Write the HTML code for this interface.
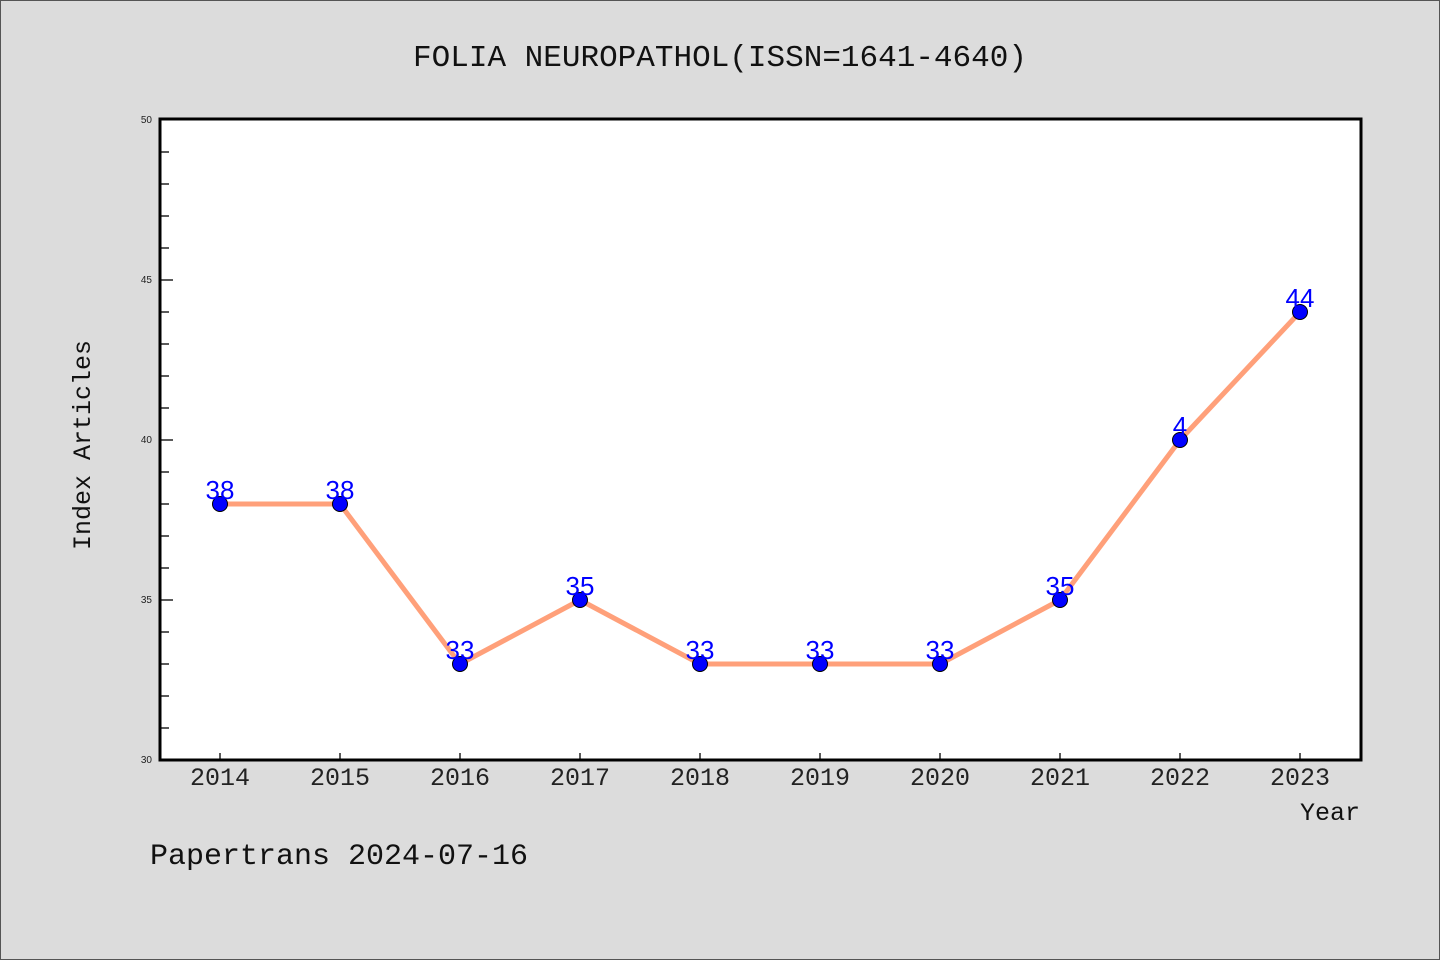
<!DOCTYPE html>
<html><head><meta charset="utf-8"><style>
body{margin:0;background:#dcdcdc;}
svg{display:block;}
</style></head><body>
<svg width="1440" height="960" xmlns="http://www.w3.org/2000/svg">
<rect x="0.5" y="0.5" width="1439" height="959" fill="#dcdcdc" stroke="#555"/>
<text x="720" y="66" text-anchor="middle" font-family="Liberation Mono, monospace" font-size="31" fill="#111">FOLIA NEUROPATHOL(ISSN=1641-4640)</text>
<rect x="160" y="119" width="1201" height="641" fill="#fff"/>
<g id="axes"></g>
<g id="marks"></g>
<rect x="160" y="119" width="1201" height="641" fill="none" stroke="#000" stroke-width="3"/>
<text transform="translate(90,445) rotate(-90)" text-anchor="middle" font-family="Liberation Mono, monospace" font-size="25" fill="#111">Index Articles</text>
<text x="1360" y="820" text-anchor="end" font-family="Liberation Mono, monospace" font-size="25" fill="#111">Year</text>
<text x="150" y="864" font-family="Liberation Mono, monospace" font-size="30" fill="#111">Papertrans 2024-07-16</text>
</svg>
<script>
const years = [2014,2015,2016,2017,2018,2019,2020,2021,2022,2023];
const values = [38,38,33,35,33,33,33,35,40,44];
const pointLabels = ["38","38","33","35","33","33","33","35","4","44"];
const yTicks = [30,35,40,45,50];
const NS="http://www.w3.org/2000/svg";
const xS = y => 220 + (y-2014)*120;
const yS = v => 760 - (v-30)*32;
const axes=document.getElementById('axes'), marks=document.getElementById('marks');
function mk(tag, attrs, parent){const e=document.createElementNS(NS,tag);for(const k in attrs)e.setAttribute(k,attrs[k]);parent.appendChild(e);return e;}
for(let v=31; v<50; v++){
  const major = v%5===0;
  const t=mk('line',{x1:160,x2:major?173:169,y1:yS(v),y2:yS(v),stroke:'#000','stroke-width':1.3},axes);
  
  
}
yTicks.forEach(v=>{
  const t=mk('text',{x:152,y:yS(v)+3,'text-anchor':'end','font-family':'Liberation Sans, sans-serif','font-size':10,fill:'#222'},axes);
  t.textContent=v;
  
  
});
years.forEach(y=>{
  const t=mk('line',{x1:xS(y),x2:xS(y),y1:760,y2:753,stroke:'#000','stroke-width':1.3},axes);
  
  
  const l=mk('text',{x:xS(y),y:785,'text-anchor':'middle','font-family':'Liberation Mono, monospace','font-size':25,fill:'#222'},axes);
  l.textContent=y;
  
  
});
const line=mk('polyline',{points:years.map((y,i)=>xS(y)+','+yS(values[i])).join(' '),fill:'none',stroke:'#ffa07a','stroke-width':5,'stroke-linejoin':'round'},marks);


years.forEach((y,i)=>{
  const c=mk('circle',{cx:xS(y),cy:yS(values[i]),r:7.5,fill:'#0000ff',stroke:'#000','stroke-width':1},marks);
  
  
  const t=mk('text',{x:xS(y),y:yS(values[i])-5,'text-anchor':'middle','font-family':'Liberation Sans, sans-serif','font-size':26,fill:'#0000ff'},marks);
  t.textContent=pointLabels[i];
  
  
});
</script>
</body></html>
